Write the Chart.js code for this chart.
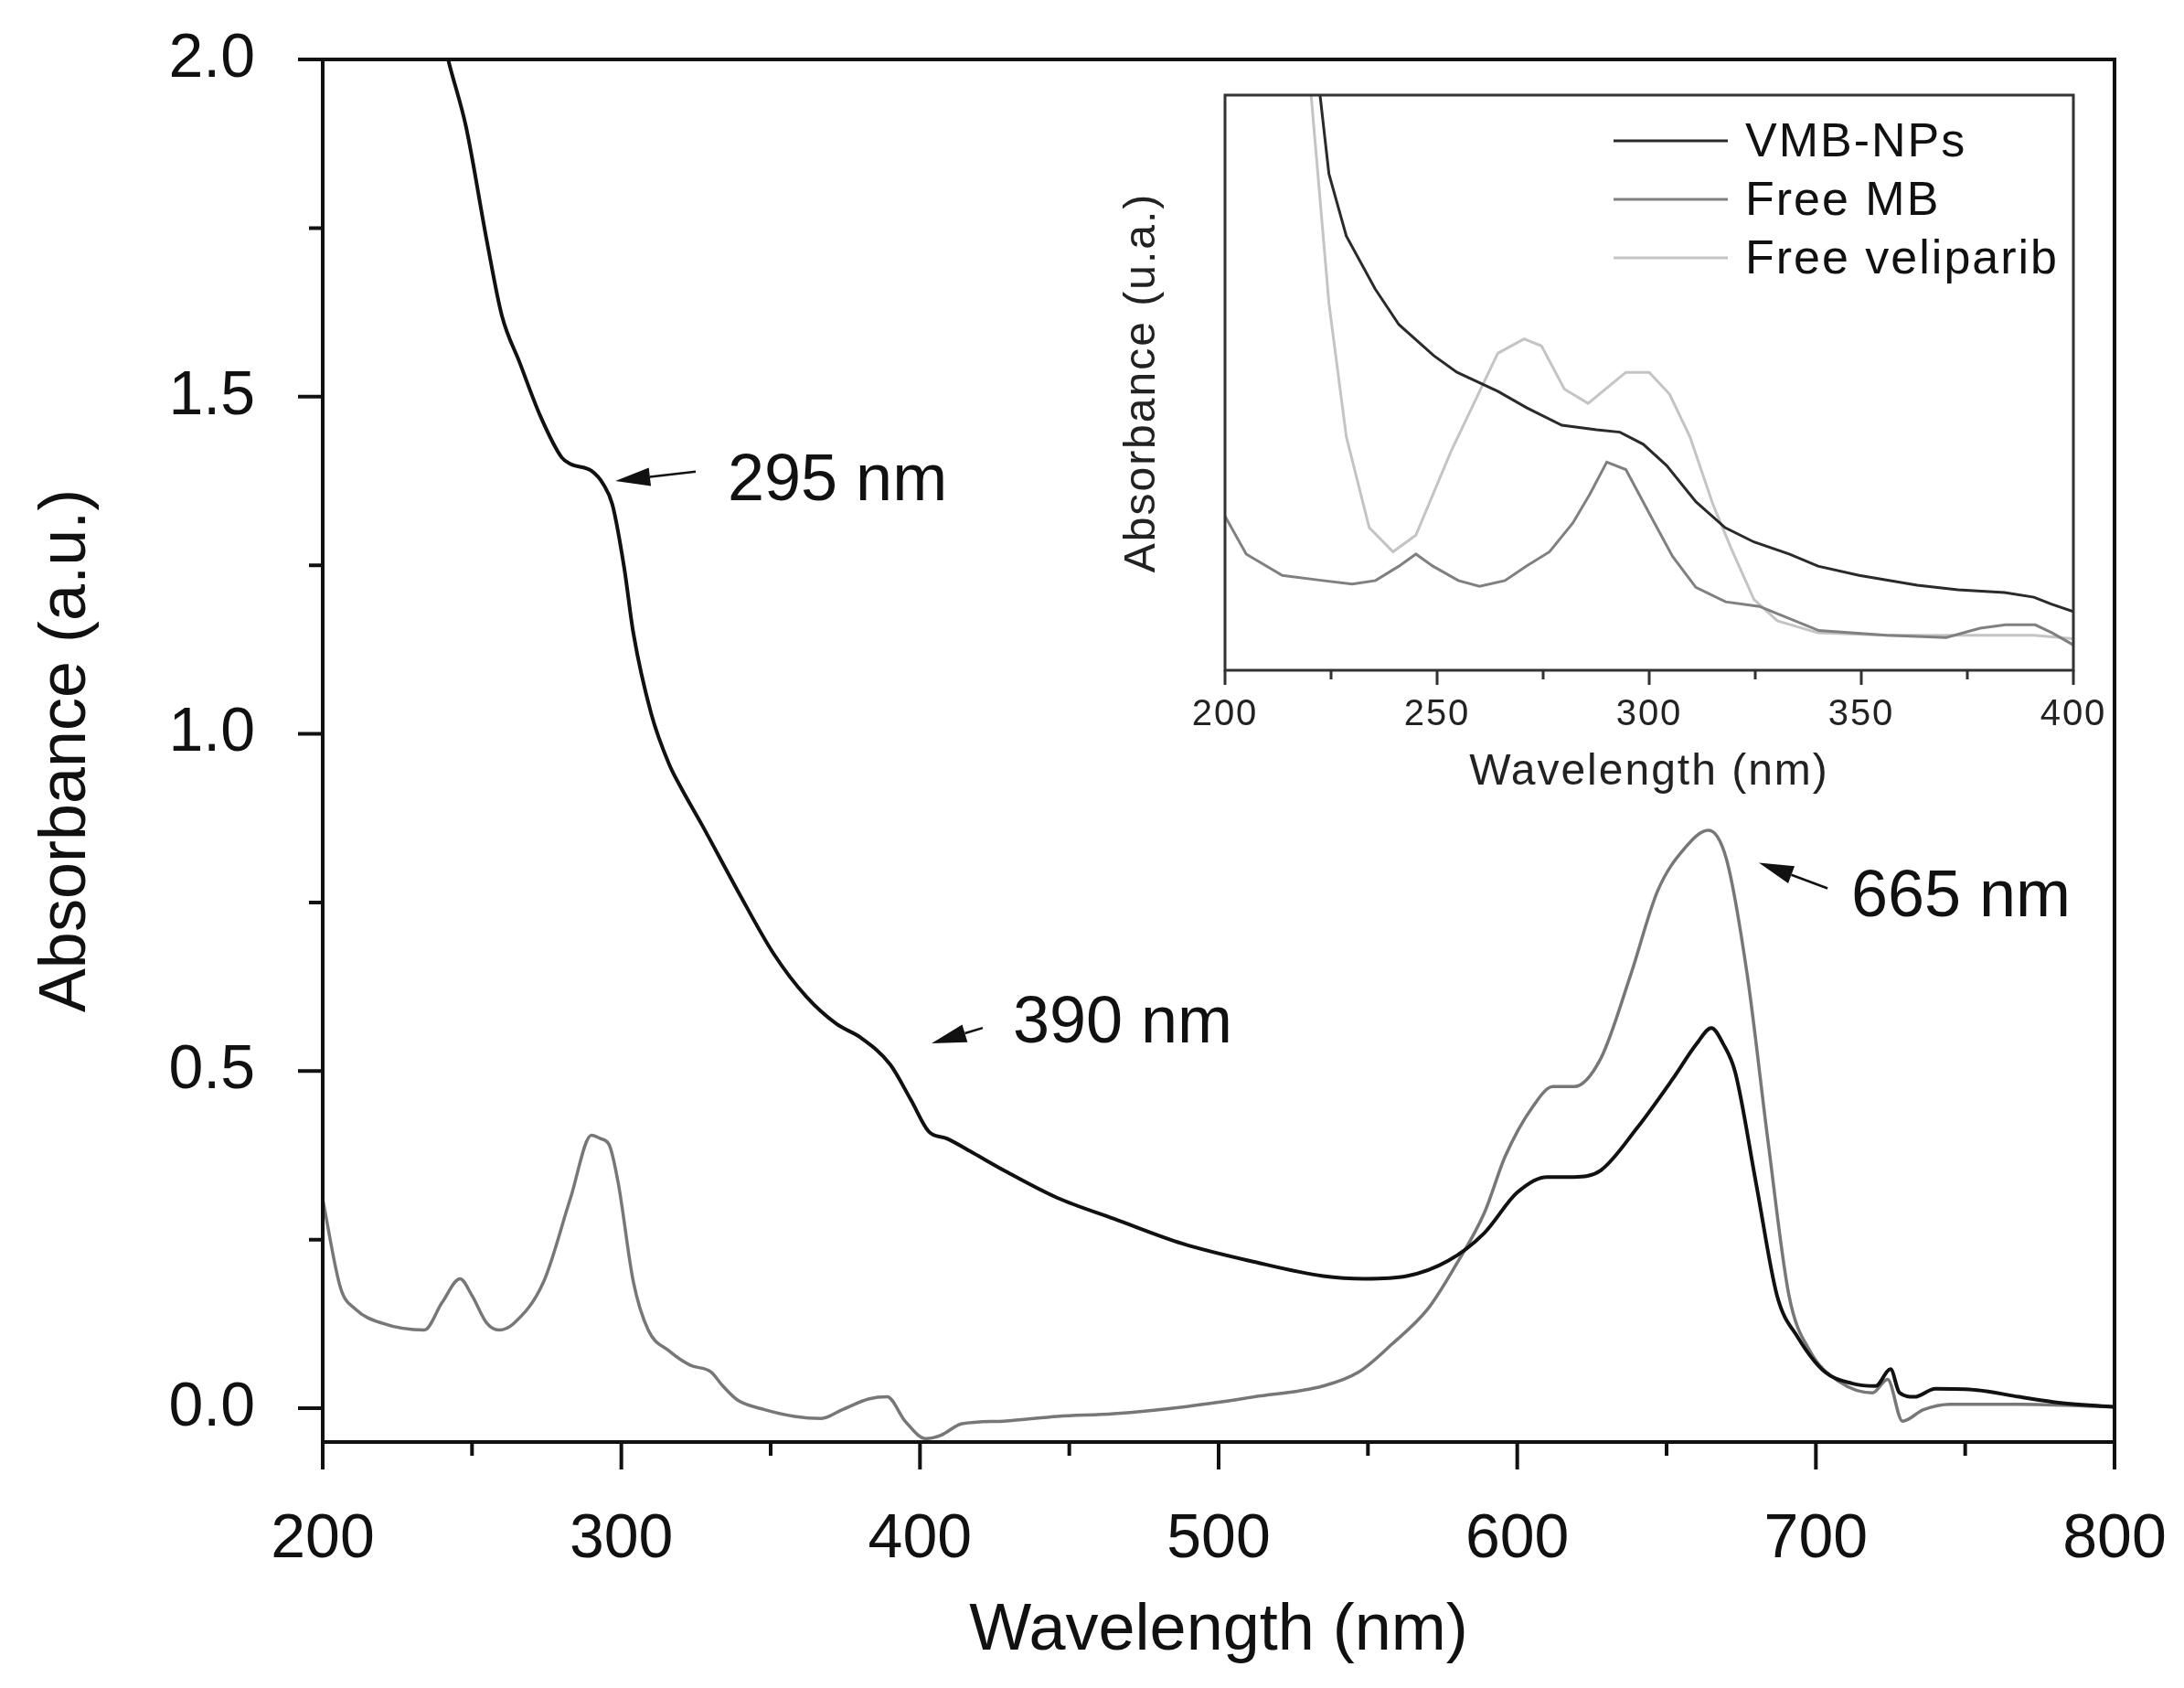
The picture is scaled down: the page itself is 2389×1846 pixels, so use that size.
<!DOCTYPE html>
<html>
<head>
<meta charset="utf-8">
<script src="https://cdn.jsdelivr.net/npm/chart.js@4.4.0/dist/chart.umd.min.js"></script>
<style>
  html, body { margin: 0; padding: 0; background: #fff; }
  #wrap { position: relative; width: 2389px; height: 1846px; }
  #main { position: absolute; left: 0; top: 0; }
  #inset { position: absolute; left: 1210px; top: 90px; }
</style>
</head>
<body>
<div id="wrap">
  <canvas id="main" width="2389" height="1846"></canvas>
  <canvas id="inset" width="1103" height="790"></canvas>
</div>
<script>
// --- data: main spectrum ---
const vmbX = [236, 242, 248, 255, 260, 266, 273, 280, 283, 290, 294, 297, 301, 304, 310, 316, 320, 327, 339, 351,
              362, 372, 380, 390, 397, 403, 409, 418, 428, 446, 465, 488, 512, 535, 549, 563, 577, 589, 600, 610,
              619, 628, 640, 652, 660, 665, 669, 673, 680, 687, 694, 703, 712, 720, 725, 728, 733, 740, 754, 768,
              782, 800];
const vmbY = [2.12, 2.0, 1.90, 1.73, 1.62, 1.55, 1.47, 1.41, 1.40, 1.39, 1.37, 1.34, 1.245, 1.15, 1.03, 0.955, 0.92, 0.865, 0.767, 0.674,
              0.61, 0.57, 0.55, 0.51, 0.457, 0.41, 0.40, 0.378, 0.353, 0.312, 0.281, 0.244, 0.217, 0.196, 0.192, 0.196, 0.219, 0.26, 0.32, 0.343,
              0.343, 0.353, 0.415, 0.488, 0.54, 0.564, 0.54, 0.498, 0.333, 0.167, 0.105, 0.054, 0.037, 0.033, 0.058, 0.023, 0.017, 0.029, 0.027, 0.017,
              0.008, 0.002];

const mbX = [200, 206, 211, 220, 234, 240, 246, 250, 255, 259, 264, 274, 283, 290, 293, 296, 299, 304, 309, 316,
             323, 330, 334, 339, 348, 358, 367, 374, 383, 389, 395, 402, 407, 414, 428, 446, 465, 488, 512, 535,
             547, 558, 570, 579, 589, 596, 605, 612, 619, 628, 638, 647, 656, 664, 670, 677, 684, 691, 698, 708,
             719, 724, 729, 736, 745, 768, 800];
const mbY = [0.31, 0.178, 0.147, 0.126, 0.116, 0.157, 0.192, 0.167, 0.126, 0.116, 0.126, 0.188, 0.312, 0.405, 0.40, 0.39, 0.333, 0.188, 0.116, 0.085,
             0.064, 0.054, 0.033, 0.012, -0.002, -0.012, -0.015, -0.002, 0.014, 0.017, -0.019, -0.045, -0.04, -0.023, -0.019, -0.012, -0.008, 0.002, 0.017, 0.033,
             0.054, 0.095, 0.147, 0.209, 0.29, 0.374, 0.446, 0.477, 0.477, 0.519, 0.643, 0.767, 0.83, 0.857, 0.815, 0.643, 0.395, 0.167, 0.085, 0.039,
             0.023, 0.043, -0.019, -0.002, 0.006, 0.006, 0.002];

const xLabels = [200, 300, 400, 500, 600, 700, 800];
const xMinor = [250, 350, 450, 550, 650, 750];
const yLabels = [0, 0.5, 1.0, 1.5, 2.0];
const yMinor = [0.25, 0.75, 1.25, 1.75];

// --- data: inset (200-400 nm) ---
const inVmbX = [220, 222.4, 224.5, 228.6, 235.4, 241, 249.2, 254.7, 264.3, 271.2, 279.4, 287.6, 293.1, 298.6, 304.1, 311, 317.9, 324.7, 333, 339.8,
                349.5, 363.2, 372.8, 383.8, 390.7, 394.8, 400];
const inVmbY = [1.1, 1.0, 0.863, 0.755, 0.663, 0.601, 0.547, 0.518, 0.485, 0.456, 0.426, 0.418, 0.414, 0.393, 0.356, 0.293, 0.248, 0.223, 0.202, 0.181,
                0.165, 0.148, 0.140, 0.135, 0.127, 0.115, 0.102];

const inMbX = [200, 205, 213.5, 223, 230, 235.5, 241, 245, 249, 255, 260, 266, 271, 276.5, 282, 286, 290, 294.5, 300, 305.5,
               311, 318, 326, 333, 340, 356, 370, 378, 384, 391, 395, 400];
const inMbY = [0.268, 0.202, 0.165, 0.156, 0.150, 0.156, 0.181, 0.202, 0.181, 0.156, 0.146, 0.156, 0.181, 0.206, 0.256, 0.306, 0.362, 0.349, 0.273, 0.198,
               0.144, 0.119, 0.111, 0.09, 0.069, 0.061, 0.057, 0.073, 0.079, 0.079, 0.065, 0.044];

const inVelX = [217, 220.3, 224.5, 228.6, 234, 239.6, 245, 253.3, 264.3, 270.5, 274.6, 280, 285.6, 294.5, 300, 304.8, 309.6, 315, 319.2, 324.7,
                330.2, 339.8, 356, 370, 390.7, 400];
const inVelY = [1.25, 1.0, 0.638, 0.406, 0.248, 0.206, 0.235, 0.381, 0.551, 0.576, 0.564, 0.489, 0.464, 0.518, 0.518, 0.480, 0.406, 0.289, 0.214, 0.123,
                0.086, 0.065, 0.061, 0.061, 0.061, 0.055];

const inXLabels = [200, 250, 300, 350, 400];
const inXMinor = [225, 275, 325, 375];

const FONT = '"Liberation Sans", Arial, sans-serif';

function pairs(xs, ys) {
    return xs.map((x, i) => ({ x: x, y: ys[i] }));
}

// keep the plot box where the layout padding puts it (no extra room for edge labels)
function noEdgePad(s) {
    s.paddingTop = 0; s.paddingBottom = 0; s.paddingLeft = 0; s.paddingRight = 0;
}

// frame + tick marks (major/minor lengths differ, so drawn here)
function framePlugin(o) {
    return {
        id: 'frame',
        afterDraw(chart) {
            const ctx = chart.ctx, a = chart.chartArea;
            const sx = chart.scales.x, sy = chart.scales.y;
            ctx.save();
            ctx.strokeStyle = o.color;
            ctx.lineWidth = o.width;
            ctx.strokeRect(a.left, a.top, a.right - a.left, a.bottom - a.top);
            ctx.beginPath();
            o.xMajor.forEach(v => { const p = sx.getPixelForValue(v); ctx.moveTo(p, a.bottom); ctx.lineTo(p, a.bottom + o.xMajorLen); });
            o.xMinor.forEach(v => { const p = sx.getPixelForValue(v); ctx.moveTo(p, a.bottom); ctx.lineTo(p, a.bottom + o.xMinorLen); });
            (o.yMajor || []).forEach(v => { const p = sy.getPixelForValue(v); ctx.moveTo(a.left, p); ctx.lineTo(a.left - o.yMajorLen, p); });
            (o.yMinor || []).forEach(v => { const p = sy.getPixelForValue(v); ctx.moveTo(a.left, p); ctx.lineTo(a.left - o.yMinorLen, p); });
            ctx.stroke();
            ctx.restore();
        }
    };
}

// arrows and peak labels on the main plot (in data units)
const notes = [
    { text: '295 nm', x: 335.6, y: 1.347, fx: 324.9, fy: 1.389, tx: 298, ty: 1.375 },
    { text: '390 nm', x: 431.1, y: 0.542, fx: 421.0, fy: 0.564, tx: 403.9, ty: 0.541 },
    { text: '665 nm', x: 711.8, y: 0.730, fx: 703.9, fy: 0.771, tx: 680.9, ty: 0.809 }
];

const notesPlugin = {
    id: 'notes',
    afterDatasetsDraw(chart) {
        const ctx = chart.ctx, sx = chart.scales.x, sy = chart.scales.y;
        ctx.save();
        ctx.fillStyle = '#111';
        ctx.strokeStyle = '#111';
        ctx.font = '72px ' + FONT;
        ctx.textBaseline = 'alphabetic';
        notes.forEach(n => {
            ctx.fillText(n.text, sx.getPixelForValue(n.x), sy.getPixelForValue(n.y));
            const x1 = sx.getPixelForValue(n.fx), y1 = sy.getPixelForValue(n.fy);
            const x2 = sx.getPixelForValue(n.tx), y2 = sy.getPixelForValue(n.ty);
            const ang = Math.atan2(y2 - y1, x2 - x1);
            const len = 38, half = 10;
            const bx = x2 - len * Math.cos(ang), by = y2 - len * Math.sin(ang);
            ctx.lineWidth = 2.5;
            ctx.beginPath();
            ctx.moveTo(x1, y1);
            ctx.lineTo(bx, by);
            ctx.stroke();
            ctx.beginPath();
            ctx.moveTo(x2, y2);
            ctx.lineTo(bx + half * Math.sin(ang), by - half * Math.cos(ang));
            ctx.lineTo(bx - half * Math.sin(ang), by + half * Math.cos(ang));
            ctx.closePath();
            ctx.fill();
        });
        ctx.restore();
    }
};

// --- MAIN CHART ---
new Chart(document.getElementById('main').getContext('2d'), {
    type: 'line',
    data: {
        datasets: [
            { label: 'VMB-NPs', data: pairs(vmbX, vmbY), borderColor: '#111', borderWidth: 4,
              pointRadius: 0, cubicInterpolationMode: 'monotone', fill: false },
            { label: 'Free MB', data: pairs(mbX, mbY), borderColor: '#777', borderWidth: 3.5,
              pointRadius: 0, cubicInterpolationMode: 'monotone', fill: false }
        ]
    },
    options: {
        responsive: false,
        devicePixelRatio: 1,
        animation: false,
        layout: { padding: { top: 65, right: 76, left: 0, bottom: 0 } },
        plugins: { legend: { display: false }, tooltip: { enabled: false } },
        scales: {
            x: {
                type: 'linear', min: 200, max: 800,
                grid: { display: false }, border: { display: false },
                afterBuildTicks: s => { s.ticks = xLabels.map(v => ({ value: v })); },
                afterFit: s => { s.height = 269; noEdgePad(s); },
                ticks: { color: '#111', padding: 58, font: { family: FONT, size: 68 }, callback: v => String(v) },
                title: { display: true, text: 'Wavelength (nm)', color: '#111',
                         font: { family: FONT, size: 72 }, padding: { top: 0, bottom: 19 } }
            },
            y: {
                type: 'linear', min: -0.05, max: 2.0,
                grid: { display: false }, border: { display: false },
                afterBuildTicks: s => { s.ticks = yLabels.map(v => ({ value: v })); },
                afterFit: s => { s.width = 353; noEdgePad(s); },
                ticks: { color: '#111', padding: 66, font: { family: FONT, size: 68 }, callback: v => v.toFixed(1) },
                title: { display: true, text: 'Absorbance (a.u.)', color: '#111',
                         font: { family: FONT, size: 72 }, padding: { top: 30, bottom: 0 } }
            }
        }
    },
    plugins: [
        framePlugin({ color: '#111', width: 4, xMajor: xLabels, xMinor: xMinor, xMajorLen: 30, xMinorLen: 15,
                      yMajor: yLabels, yMinor: yMinor, yMajorLen: 27, yMinorLen: 15 }),
        notesPlugin
    ]
});

// --- INSET ---
const insetLegend = {
    id: 'insetLegend',
    afterDraw(chart) {
        const ctx = chart.ctx, a = chart.chartArea;
        ctx.save();
        ctx.font = '52px ' + FONT;
        ctx.textBaseline = 'middle';
        chart.data.datasets.forEach((ds, i) => {
            const y = a.top + 50 + i * 64;
            ctx.strokeStyle = ds.borderColor;
            ctx.lineWidth = 3;
            ctx.beginPath();
            ctx.moveTo(a.right - 503, y);
            ctx.lineTo(a.right - 378, y);
            ctx.stroke();
            ctx.fillStyle = '#111';
            ctx.fillText(ds.label, a.right - 359, y + 3);
        });
        ctx.restore();
    }
};

const spacing = {
    id: 'spacing',
    beforeDraw(chart) { chart.ctx.letterSpacing = '2px'; }
};

new Chart(document.getElementById('inset').getContext('2d'), {
    type: 'line',
    data: {
        datasets: [
            { label: 'VMB-NPs', data: pairs(inVmbX, inVmbY), borderColor: '#2a2a2a', borderWidth: 3, pointRadius: 0, tension: 0, fill: false },
            { label: 'Free MB', data: pairs(inMbX, inMbY), borderColor: '#808080', borderWidth: 3, pointRadius: 0, tension: 0, fill: false },
            { label: 'Free veliparib', data: pairs(inVelX, inVelY), borderColor: '#c4c4c4', borderWidth: 3, pointRadius: 0, tension: 0, fill: false }
        ]
    },
    options: {
        responsive: false,
        devicePixelRatio: 1,
        animation: false,
        layout: { padding: { top: 14, right: 45, left: 0, bottom: 0 } },
        plugins: { legend: { display: false }, tooltip: { enabled: false } },
        scales: {
            x: {
                type: 'linear', min: 200, max: 400,
                grid: { display: false }, border: { display: false },
                afterBuildTicks: s => { s.ticks = inXLabels.map(v => ({ value: v })); },
                afterFit: s => { s.height = 147; noEdgePad(s); },
                ticks: { color: '#222', padding: 17, font: { family: FONT, size: 40 }, callback: v => String(v) },
                title: { display: true, text: 'Wavelength (nm)', color: '#222',
                         font: { family: FONT, size: 48 }, padding: { top: 0, bottom: 6 } }
            },
            y: {
                type: 'linear', min: 0, max: 1,
                grid: { display: false }, border: { display: false },
                ticks: { display: false },
                afterFit: s => { s.width = 130; noEdgePad(s); },
                title: { display: true, text: 'Absorbance (u.a.)', color: '#222',
                         font: { family: FONT, size: 48 }, padding: { top: 11, bottom: 0 } }
            }
        }
    },
    plugins: [
        spacing,
        framePlugin({ color: '#333', width: 3, xMajor: inXLabels, xMinor: inXMinor, xMajorLen: 16, xMinorLen: 10 }),
        insetLegend
    ]
});
</script>
</body>
</html>
